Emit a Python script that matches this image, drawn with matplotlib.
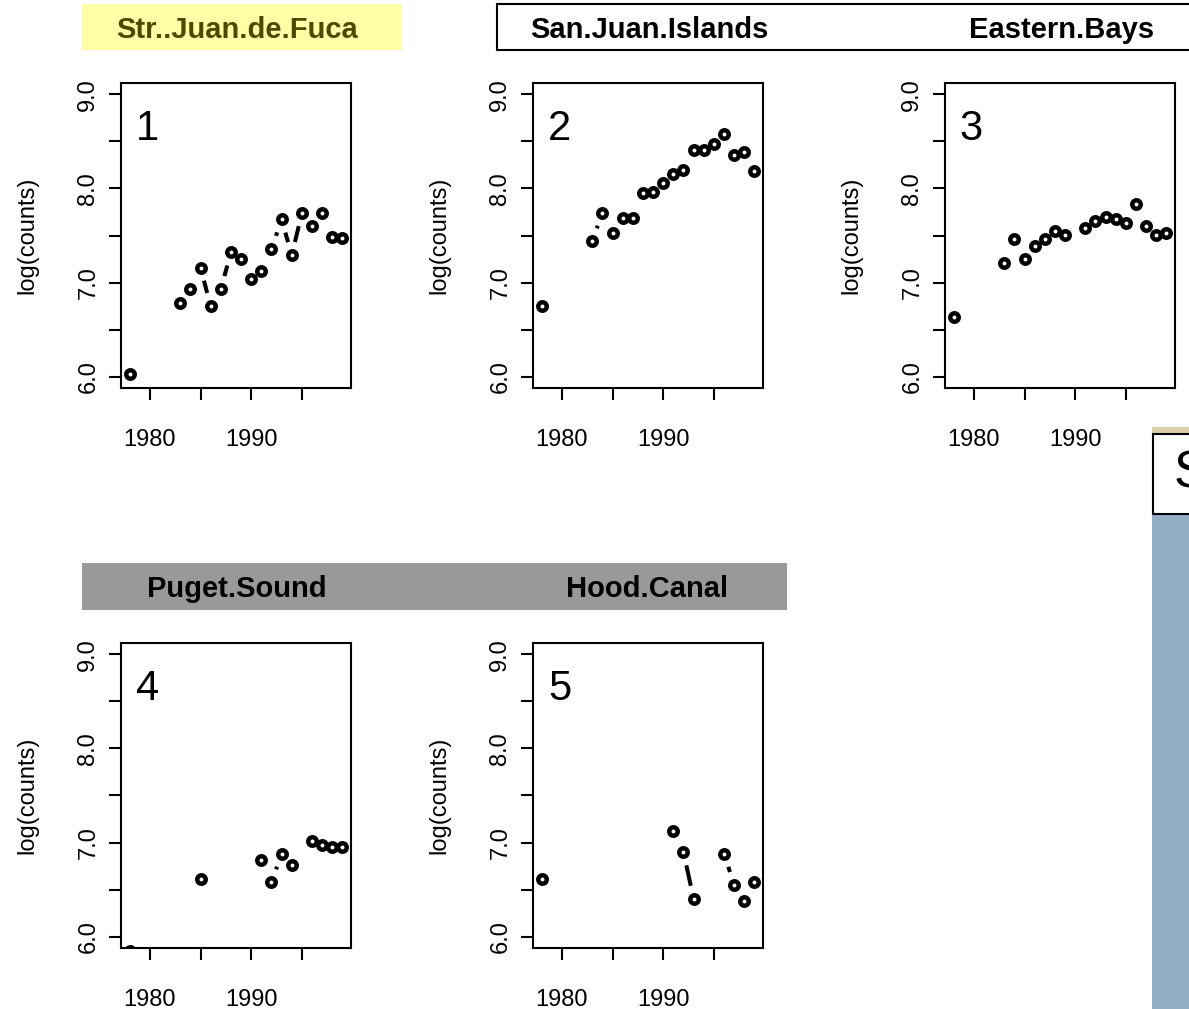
import numpy as np
import matplotlib
matplotlib.use("Agg")
import matplotlib.pyplot as plt
from matplotlib.patches import Rectangle

plt.rcParams["font.family"] = ["Liberation Sans", "DejaVu Sans"]

years = list(range(1978, 2000))
nan = np.nan

# log(counts) per region, 1978..1999 (nan = no survey)
str_juan_de_fuca = [6.03, nan, nan, nan, nan, 6.78, 6.93, 7.16, 6.75, 6.93, 7.32,
                    7.25, 7.04, 7.12, 7.36, 7.67, 7.29, 7.74, 7.60, 7.74, 7.48, 7.47]
san_juan_islands = [6.75, nan, nan, nan, nan, 7.44, 7.74, 7.53, 7.69, 7.69, 7.95,
                    7.96, 8.06, 8.15, 8.20, 8.41, 8.41, 8.47, 8.58, 8.36, 8.39, 8.18]
eastern_bays = [6.63, nan, nan, nan, nan, 7.21, 7.46, 7.25, 7.39, 7.46, 7.55,
                7.51, nan, 7.58, 7.65, 7.70, 7.67, 7.63, 7.83, 7.60, 7.51, 7.53]
puget_sound = [5.85, nan, nan, nan, nan, nan, nan, 6.61, nan, nan, nan,
               nan, nan, 6.81, 6.58, 6.88, 6.76, nan, 7.02, 6.97, 6.95, 6.95]
hood_canal = [6.61, nan, nan, nan, nan, nan, nan, nan, nan, nan, nan,
              nan, nan, 7.12, 6.90, 6.40, nan, nan, 6.88, 6.55, 6.38, 6.58]

series = [str_juan_de_fuca, san_juan_islands, eastern_bays, puget_sound, hood_canal]
panel_labels = ["1", "2", "3", "4", "5"]

xticks = [1980, 1985, 1990, 1995]
xticklabels = ["1980", "", "1990", ""]
yticks = [6.0, 6.5, 7.0, 7.5, 8.0, 8.5, 9.0]
yticklabels = ["6.0", "", "7.0", "", "8.0", "", "9.0"]

W, H = 1189, 1009
fig = plt.figure(figsize=(W / 100, H / 100), dpi=100)


def px_rect(x0, y0, x1, y1):
    # pixel box (top-left origin) -> figure fraction
    return [x0 / W, 1 - y1 / H, (x1 - x0) / W, (y1 - y0) / H]


def add_box(x0, y0, x1, y1, fc, ec="none", lw=0, z=0):
    l, b, w, h = px_rect(x0, y0, x1, y1)
    fig.patches.append(Rectangle((l, b), w, h, transform=fig.transFigure,
                                 facecolor=fc, edgecolor=ec, linewidth=lw,
                                 zorder=z, clip_on=False))


# strip headers
add_box(82, 4, 402, 50, "#ffffa8")
add_box(497, 4, 1200, 50, "white", "black", 1.5)
add_box(82, 563, 787, 610, "#999999")
hdr = dict(fontsize=21, fontweight="bold", ha="center", va="center")
fig.text(237 / W, 1 - 30 / H, "Str..Juan.de.Fuca", color="#4d4a00", **hdr)
fig.text(649 / W, 1 - 30 / H, "San.Juan.Islands", color="black", **hdr)
fig.text(1062 / W, 1 - 30 / H, "Eastern.Bays", color="black", **hdr)
fig.text(237 / W, 1 - 589 / H, "Puget.Sound", color="black", **hdr)
fig.text(647 / W, 1 - 589 / H, "Hood.Canal", color="black", **hdr)

# partly visible panel on the right edge
add_box(1152, 427, 1200, 434, "#ddd0a8", z=3)
add_box(1152, 514, 1200, 1012, "#95aec8", z=3)
add_box(1153, 434, 1200, 514, "white", "black", 1.5, z=3)
fig.text(1174 / W, 1 - 474 / H, "S", fontsize=37, ha="left", va="center", zorder=4)

positions = [(121, 83), (533, 83), (945, 83), (121, 643), (533, 643)]
GAP = 13.6  # px gap around each point for type="b" lines

for vals, (x0, y0), lab in zip(series, positions, panel_labels):
    ax = fig.add_axes(px_rect(x0, y0, x0 + 230, y0 + 305))
    ax.set_xlim(1977.16, 1999.84)
    ax.set_ylim(5.88, 9.12)
    for s in ax.spines.values():
        s.set_linewidth(1.5)
    ax.set_xticks(xticks)
    ax.set_xticklabels(xticklabels)
    ax.set_yticks(yticks)
    ax.set_yticklabels(yticklabels, rotation=90, va="center")
    ax.tick_params(axis="both", length=8.6, width=1.5, labelsize=17)
    ax.tick_params(axis="x", pad=21)
    ax.tick_params(axis="y", pad=7)
    ax.text(-94 / 230, 0.5, "log(counts)", transform=ax.transAxes, rotation=90,
            ha="center", va="center", fontsize=17)
    ax.text(0.115, 0.85, lab, transform=ax.transAxes, fontsize=30,
            ha="center", va="center")

    v = np.array(vals, dtype=float)
    ax.plot(years, v, linestyle="none", marker="o", markersize=6.1,
            markerfacecolor="none", markeredgecolor="black", markeredgewidth=3.2)

    # connecting segments with gaps around points
    pts = ax.transData.transform(np.column_stack([years, v]))
    inv = ax.transData.inverted()
    for i in range(len(years) - 1):
        if np.isnan(v[i]) or np.isnan(v[i + 1]):
            continue
        p, q = pts[i], pts[i + 1]
        d = np.hypot(*(q - p))
        if d <= 2 * GAP:
            continue
        u = (q - p) / d
        a, b = inv.transform([p + u * GAP, q - u * GAP])
        ax.plot([a[0], b[0]], [a[1], b[1]], color="black", linewidth=2.9,
                solid_capstyle="butt")

fig.savefig("out.png", dpi=100)
